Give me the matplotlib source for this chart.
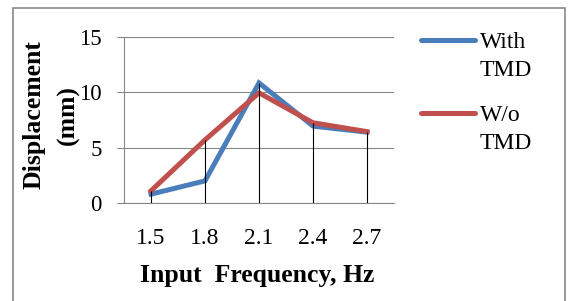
import numpy as np
import matplotlib
matplotlib.use('Agg')
import matplotlib.pyplot as plt
from matplotlib.lines import Line2D
from matplotlib.patches import Rectangle

# data
freq = ['1.5', '1.8', '2.1', '2.4', '2.7']
with_tmd = [0.8, 2.0, 10.85, 6.95, 6.4]
without_tmd = [1.1, 5.7, 9.95, 7.25, 6.45]
series_names = ['With\nTMD', 'W/o\nTMD']
series_colors = ['#4A7EBB', '#C0504D']

plt.rcParams['font.family'] = ['Liberation Serif', 'DejaVu Serif']
W, H = 568, 301
fig = plt.figure(figsize=(W / 100, H / 100), dpi=100)
ax = fig.add_axes([124 / W, 1 - 203 / H, 270 / W, 166 / H])

x = np.arange(len(freq))
for vals, col in zip([with_tmd, without_tmd], series_colors):
    ax.plot(x, vals, color=col, lw=3.6, solid_joinstyle='miter', zorder=3)

# drop lines from the axis up to the highest series
top = np.maximum(with_tmd, without_tmd)
ax.vlines(x, 0, top, color='black', lw=0.8, zorder=4)

ax.set_xlim(-0.5, len(freq) - 0.5)
ax.set_ylim(0, 15)
ax.set_yticks([0, 5, 10, 15])
ax.set_xticks(x)
ax.set_xticklabels(freq)
ax.yaxis.grid(True, color='#868686', lw=0.8)
ax.set_axisbelow(True)
for s in ['top', 'right']:
    ax.spines[s].set_visible(False)
for s in ['left', 'bottom']:
    ax.spines[s].set_color('#868686')
    ax.spines[s].set_linewidth(0.8)
ax.tick_params(axis='y', length=5, width=0.8, color='#868686', pad=11, labelsize=16.5)
ax.tick_params(axis='x', length=0, pad=18, labelsize=17)

ax.set_ylabel('Displacement\n(mm)', fontsize=18.5, fontweight='bold', linespacing=1.6)
ax.yaxis.label.set_va('center')
ax.yaxis.set_label_coords(-0.27, 0.53)
ax.set_xlabel('Input  Frequency, Hz', fontsize=18.5, fontweight='bold')
ax.xaxis.label.set_va('center')
ax.xaxis.set_label_coords(0.494, -0.434)

# legend drawn by hand so the key sits on the first text line
for i, (name, col) in enumerate(zip(series_names, series_colors)):
    y0 = 40 + i * 73
    fig.add_artist(Line2D([421 / W, 475 / W], [1 - y0 / H, 1 - y0 / H],
                          color=col, lw=3.6, solid_capstyle='round'))
    fig.text(480 / W, 1 - (y0 - 8) / H, name, fontsize=17, va='top', ha='left',
             linespacing=1.45)

# outer chart border (bottom edge runs off the picture)
fig.add_artist(Rectangle((13 / W, -0.1), 552 / W, 1.1 - 8 / H, fill=False,
                         edgecolor='#898989', lw=1.2, transform=fig.transFigure))

plt.savefig('out.png', dpi=100)
